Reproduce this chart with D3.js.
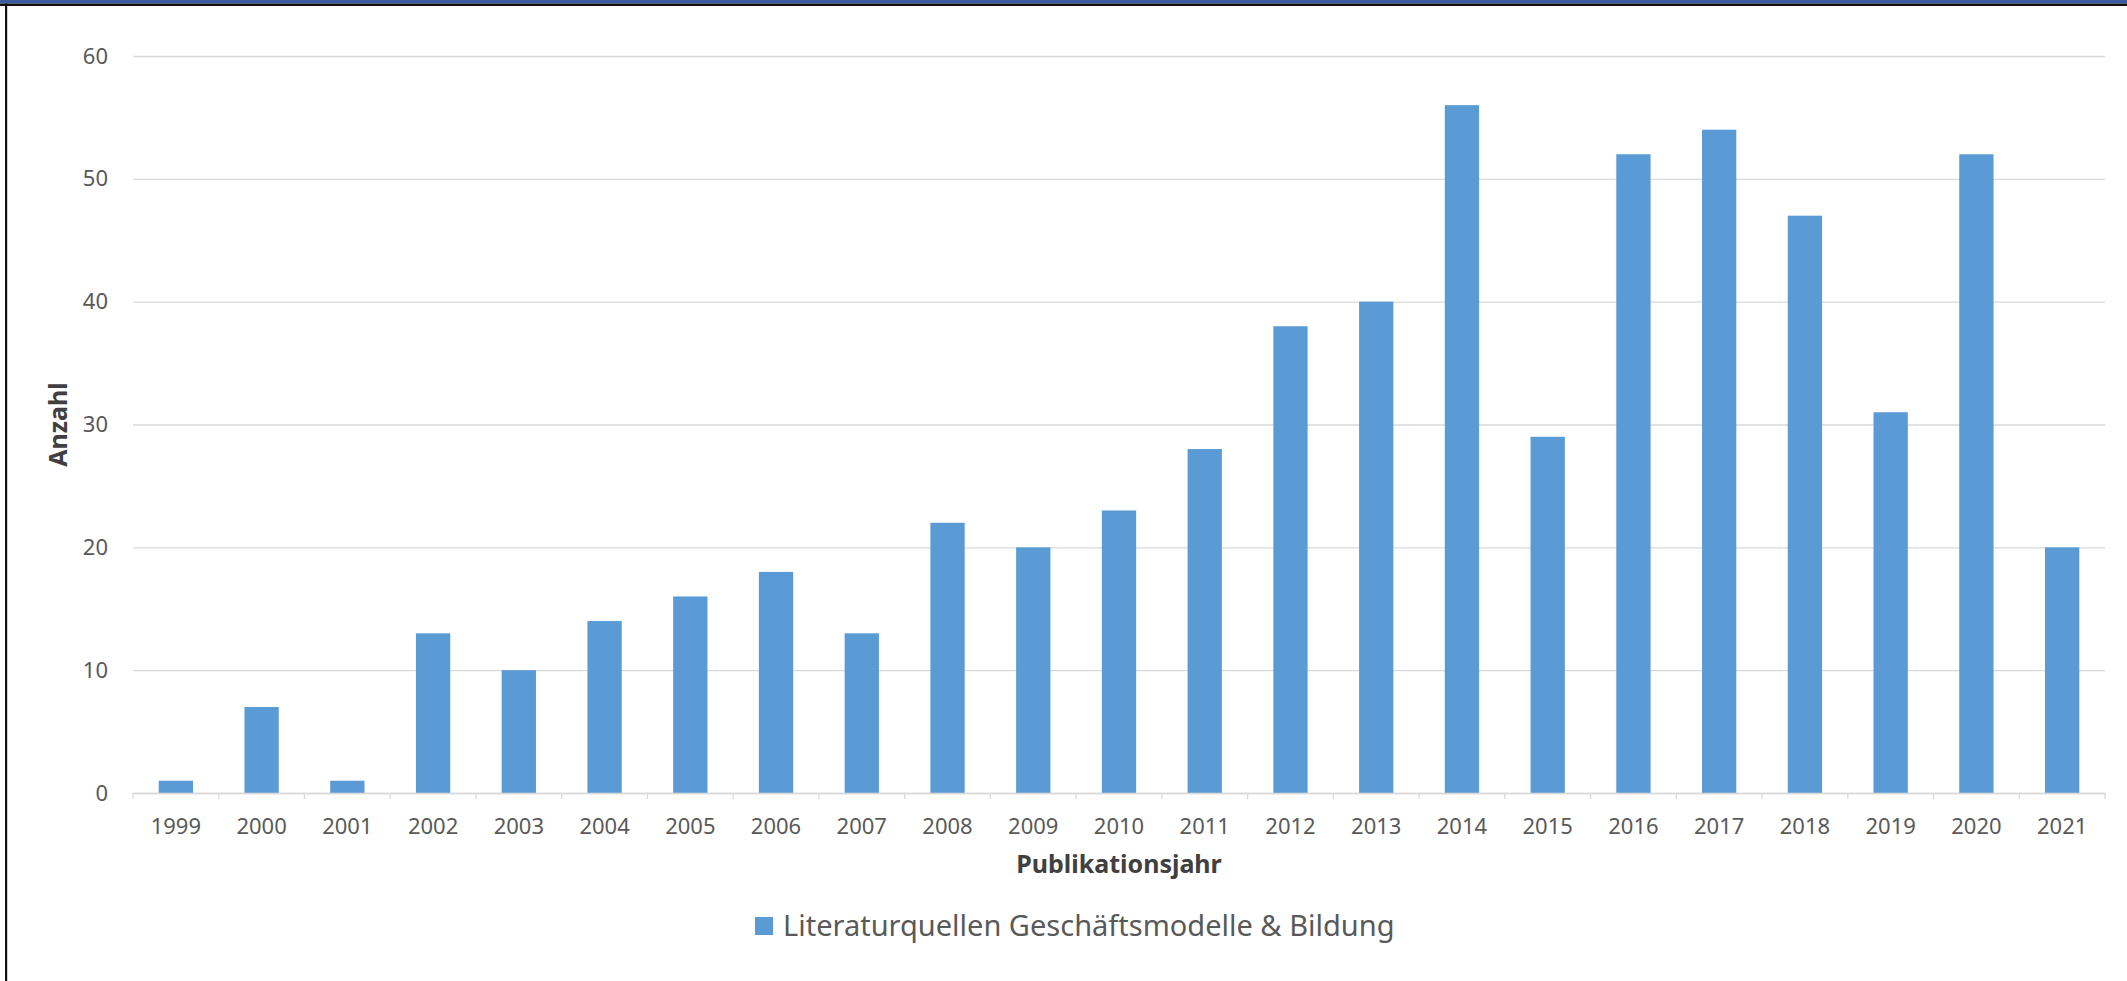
<!DOCTYPE html>
<html>
<head>
<meta charset="utf-8">
<script src="https://cdn.jsdelivr.net/npm/d3@7"></script>
<style>
  html, body { margin: 0; padding: 0; background: #ffffff; }
  svg { display: block; }
  text { font-family: "Noto Sans", "Open Sans", sans-serif; }
</style>
</head>
<body>
<svg id="chart" width="2127" height="981"></svg>
<script>
// Publications per year
const years = ["1999","2000","2001","2002","2003","2004","2005","2006","2007","2008","2009","2010",
               "2011","2012","2013","2014","2015","2016","2017","2018","2019","2020","2021"];
const counts = [1, 7, 1, 13, 10, 14, 16, 18, 13, 22, 20, 23, 28, 38, 40, 56, 29, 52, 54, 47, 31, 52, 20];
const yTicks = [0, 10, 20, 30, 40, 50, 60];
const seriesName = "Literaturquellen Geschäftsmodelle & Bildung";
const xTitle = "Publikationsjahr";
const yTitle = "Anzahl";

const W = 2127, H = 981;
const plot = { left: 133, right: 2105, top: 56, bottom: 793 };
const barColor = "#5b9bd5";
const gridColor = "#d9d9d9";
const tickText = "#595959";
const titleText = "#404040";

const svg = d3.select("#chart");

// frame: blue band with dark rule on top, dark rule on the left
svg.append("rect").attr("x", 0).attr("y", 0).attr("width", W).attr("height", 3.5).attr("fill", "#3d5a9e");
svg.append("rect").attr("x", 0).attr("y", 3.5).attr("width", W).attr("height", 2.5).attr("fill", "#111111");
svg.append("rect").attr("x", 5).attr("y", 3.5).attr("width", 2.2).attr("height", H).attr("fill", "#111111");

const x = d3.scaleBand()
  .domain(years)
  .range([plot.left, plot.right])
  .paddingInner(0.6)
  .paddingOuter(0.3);

const y = d3.scaleLinear()
  .domain([0, 60])
  .range([plot.bottom, plot.top]);

// horizontal gridlines + value labels
const yAxis = svg.append("g")
  .attr("transform", `translate(${plot.left},0)`)
  .call(d3.axisLeft(y).tickValues(yTicks).tickSize(-(plot.right - plot.left)).tickPadding(25).tickFormat(d3.format("d")));
yAxis.select(".domain").remove();
yAxis.selectAll(".tick line").attr("stroke", gridColor).attr("stroke-width", 1.3);
yAxis.selectAll(".tick text")
  .attr("fill", tickText)
  .style("font-size", "22px");

// bars
svg.append("g").selectAll("rect")
  .data(years.map((yr, i) => ({ yr, v: counts[i] })))
  .join("rect")
  .attr("x", d => x(d.yr))
  .attr("y", d => y(d.v))
  .attr("width", x.bandwidth())
  .attr("height", d => y(0) - y(d.v))
  .attr("fill", barColor);

// category axis
const xAxis = svg.append("g")
  .attr("transform", `translate(0,${plot.bottom})`)
  .call(d3.axisBottom(x).tickSize(0).tickPadding(25));
xAxis.select(".domain").attr("stroke", gridColor).attr("stroke-width", 1.3);
xAxis.selectAll(".tick text")
  .attr("fill", tickText)
  .style("font-size", "22px");

// divider ticks between categories
const step = x.step();
const dividers = years.map(yr => x(yr) - step * x.paddingInner() / 2);
dividers.push(x(years[years.length - 1]) + x.bandwidth() + step * x.paddingInner() / 2);
svg.append("g").selectAll("line")
  .data(dividers)
  .join("line")
  .attr("x1", d => d)
  .attr("x2", d => d)
  .attr("y1", plot.bottom)
  .attr("y2", plot.bottom + 6)
  .attr("stroke", gridColor)
  .attr("stroke-width", 1.3);

// axis titles
svg.append("text")
  .attr("x", (plot.left + plot.right) / 2)
  .attr("y", 873)
  .attr("text-anchor", "middle")
  .attr("fill", titleText)
  .style("font-size", "25px")
  .style("font-weight", "bold")
  .text(xTitle);

svg.append("text")
  .attr("transform", `translate(67,${(plot.top + plot.bottom) / 2}) rotate(-90)`)
  .attr("text-anchor", "middle")
  .attr("fill", titleText)
  .style("font-size", "25px")
  .style("font-weight", "bold")
  .text(yTitle);

// legend
const legend = svg.append("g").attr("transform", "translate(755,917)");
legend.append("rect").attr("x", 0).attr("y", 0).attr("width", 18).attr("height", 18).attr("fill", barColor);
legend.append("text")
  .attr("x", 28)
  .attr("y", 19)
  .attr("fill", tickText)
  .style("font-size", "29px")
  .text(seriesName);
</script>
</body>
</html>
